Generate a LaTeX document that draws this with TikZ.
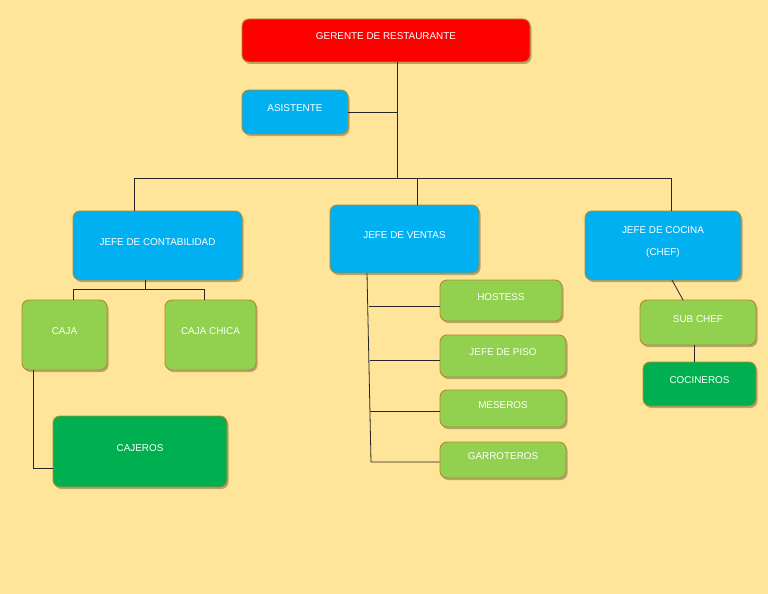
\documentclass[tikz,border=0pt]{standalone}
\usepackage{fontspec}
\setmainfont{Liberation Sans}
\usetikzlibrary{shadows}
\definecolor{bg}{RGB}{255,229,153}
\definecolor{redbox}{RGB}{255,0,0}
\definecolor{bluebox}{RGB}{0,176,240}
\definecolor{greenbox}{RGB}{146,208,80}
\definecolor{dgreenbox}{RGB}{0,176,80}
\definecolor{edge}{RGB}{176,140,40}
\begin{document}
\begin{tikzpicture}[x=1pt,y=-1pt,
  box/.style={draw=edge, line width=0.9pt, rounded corners=7pt, inner sep=0pt,
    text=white, font=\fontsize{9.9}{12}\selectfont, text height=7pt, text depth=8pt,
    drop shadow={shadow xshift=1.5pt, shadow yshift=-2pt, opacity=0.35, fill=black!80}},
  rbox/.style={box, fill=redbox},
  bbox/.style={box, fill=bluebox},
  gbox/.style={box, fill=greenbox},
  dbox/.style={box, fill=dgreenbox},
  conn/.style={draw=black!85, line width=0.8pt}]
\useasboundingbox (0,0) rectangle (768,594);
\fill[bg] (0,0) rectangle (768,594);

\node[rbox, minimum width=288pt, minimum height=43pt] (ger) at (386,40.5) {GERENTE DE RESTAURANTE};
\node[bbox, minimum width=106pt, minimum height=44pt] (asis) at (295,112) {ASISTENTE};
\node[bbox, minimum width=169pt, minimum height=69pt] (cont) at (157.5,245.5) {JEFE DE CONTABILIDAD};
\node[bbox, minimum width=149pt, minimum height=68pt] (vent) at (404.5,239) {JEFE DE VENTAS};
\node[bbox, minimum width=156pt, minimum height=69pt, align=center, text height=28pt, text depth=8pt] (coc) at (663,245.5) {JEFE DE COCINA\\[10pt](CHEF)};
\node[gbox, minimum width=85pt, minimum height=70pt] (caja) at (64.5,335) {CAJA};
\node[gbox, minimum width=91pt, minimum height=70pt] (cchica) at (210.5,335) {CAJA CHICA};
\node[dbox, minimum width=174pt, minimum height=71pt] (cajeros) at (140,451.5) {CAJEROS};
\node[gbox, minimum width=122pt, minimum height=41pt] (host) at (501,300.5) {HOSTESS};
\node[gbox, minimum width=126pt, minimum height=42pt] (piso) at (503,356) {JEFE DE PISO};
\node[gbox, minimum width=126pt, minimum height=37pt] (mes) at (503,408.5) {MESEROS};
\node[gbox, minimum width=126pt, minimum height=36pt] (garr) at (503,460) {GARROTEROS};
\node[gbox, minimum width=116pt, minimum height=45pt] (sub) at (698,322.5) {SUB CHEF};
\node[dbox, minimum width=113pt, minimum height=44pt] (cocin) at (699.5,384) {COCINEROS};

% top level
\coordinate (j0) at (397,178);
\coordinate (hl) at (134,178);
\coordinate (hr) at (671,178);
\coordinate (hv) at (417,178);
\draw[conn] (ger.south -| j0) -- (j0);
\draw[conn] (asis.east) -- (asis.east -| j0);
\draw[conn] (cont.north -| hl) -- (hl) -- (hr) -- (coc.north -| hr);
\draw[conn] (hv) -- (vent.north -| hv);

% contabilidad
\coordinate (c0) at (145,289);
\coordinate (cl) at (73,289);
\coordinate (cr) at (204,289);
\coordinate (k1) at (33,468);
\draw[conn] (cont.south -| c0) -- (c0);
\draw[conn] (caja.north -| cl) -- (cl) -- (cr) -- (cchica.north -| cr);
\draw[conn] (caja.south -| k1) -- (k1) -- (k1 -| cajeros.west);

% ventas
\coordinate (v0) at (367,273);
\coordinate (v1) at (371,462);
\coordinate (b1) at (368.5,306);
\coordinate (b2) at (369.5,360);
\coordinate (b3) at (370.3,411);
\draw[conn] (v0) -- (v1) -- (v1 -| garr.west);
\draw[conn] (b1) -- (b1 -| host.west);
\draw[conn] (b2) -- (b2 -| piso.west);
\draw[conn] (b3) -- (b3 -| mes.west);

% cocina
\coordinate (s0) at (672,280);
\coordinate (s1) at (683,300);
\coordinate (s2) at (694,345);
\draw[conn] (s0) -- (s1);
\draw[conn] (s2) -- (s2 |- cocin.north);
\end{tikzpicture}
\end{document}
